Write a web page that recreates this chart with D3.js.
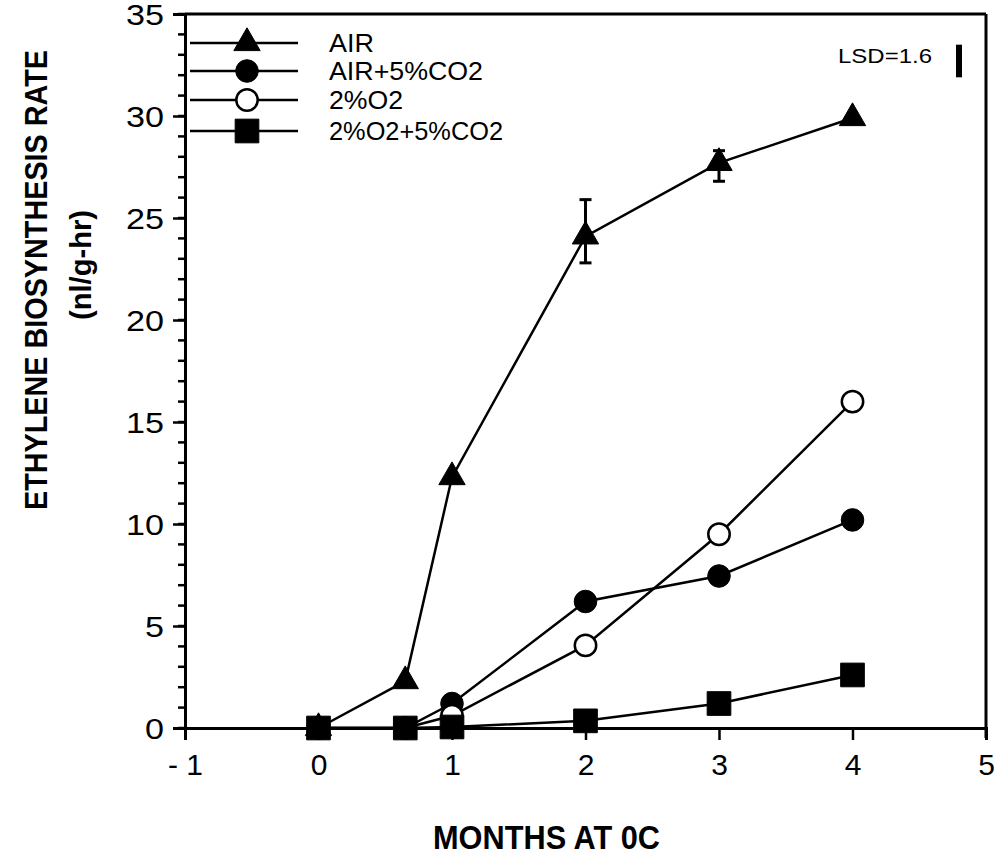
<!DOCTYPE html>
<html>
<head>
<meta charset="utf-8">
<script src="https://cdn.jsdelivr.net/npm/d3@7"></script>
<style>
  body { margin: 0; background: #fff; }
  svg { display: block; }
  text { font-family: "Liberation Sans", Arial, sans-serif; fill: #000; }
</style>
</head>
<body>
<svg id="chart" width="995" height="856"></svg>
<script>
// months of storage at 0C
const months = [0, 0.65, 1, 2, 3, 4];

// ethylene rate (nl/g-hr) for each atmosphere
const airVals = [0, 2.3, 12.3, 24.1, 27.7, 29.9];
const airCo2Vals = [0, 0, 1.2, 6.2, 7.45, 10.2];
const o2Vals = [0, 0, 0.6, 4.05, 9.5, 16.0];
const o2Co2Vals = [0, 0, 0.05, 0.35, 1.2, 2.6];

// error bars on the AIR series: [month, low, high]
const airErr = [[2, 22.8, 25.9], [3, 26.8, 28.3]];

const seriesNames = ["AIR", "AIR+5%CO2", "2%O2", "2%O2+5%CO2"];
const xTicks = [-1, 0, 1, 2, 3, 4, 5];
const yTicks = [0, 5, 10, 15, 20, 25, 30, 35];
const lsd = 1.6;

const series = [
    {name: seriesNames[0], vals: airVals, shape: d3.symbolTriangle, size: 300, fill: "#000"},
    {name: seriesNames[1], vals: airCo2Vals, shape: d3.symbolCircle, size: 400, fill: "#000"},
    {name: seriesNames[2], vals: o2Vals, shape: d3.symbolCircle, size: 360, fill: "#fff"},
    {name: seriesNames[3], vals: o2Co2Vals, shape: d3.symbolSquare, size: 560, fill: "#000"}
];

const svg = d3.select("#chart");

const x = d3.scaleLinear().domain([-1, 5]).range([185, 986]);
const y = d3.scaleLinear().domain([0, 35]).range([728, 14]);

// frame: top and right borders
svg.append("line")
    .attr("x1", x(-1)).attr("x2", x(5))
    .attr("y1", y(35)).attr("y2", y(35))
    .attr("stroke", "#000").attr("stroke-width", 3);
svg.append("line")
    .attr("x1", x(5)).attr("x2", x(5))
    .attr("y1", y(35)).attr("y2", y(0) + 10)
    .attr("stroke", "#000").attr("stroke-width", 3);

// minor y ticks every 1
svg.append("g")
    .selectAll("line")
    .data(d3.range(0, 36))
    .join("line")
    .attr("x1", x(-1) - 7).attr("x2", x(-1))
    .attr("y1", d => y(d)).attr("y2", d => y(d))
    .attr("stroke", "#000").attr("stroke-width", 2.5);

const yAxis = svg.append("g")
    .attr("transform", `translate(${x(-1)},0)`)
    .call(d3.axisLeft(y).tickValues(yTicks).tickSize(12).tickPadding(9));
yAxis.select(".domain").attr("stroke-width", 3);
yAxis.selectAll(".tick line").attr("stroke-width", 2.5);
yAxis.selectAll(".tick text")
    .style("font-size", "29px")
    .attr("dy", "0.36em")
    .attr("textLength", d => String(d).length * 19)
    .attr("lengthAdjust", "spacingAndGlyphs");

const xAxis = svg.append("g")
    .attr("transform", `translate(0,${y(0)})`)
    .call(d3.axisBottom(x).tickValues(xTicks).tickSize(12).tickPadding(14)
        .tickFormat(d => d < 0 ? "- " + Math.abs(d) : d));
xAxis.select(".domain").attr("stroke-width", 3);
xAxis.selectAll(".tick line").attr("stroke-width", 2.5);
xAxis.selectAll(".tick text")
    .style("font-size", "30px");

// error bars
const errG = svg.append("g");
airErr.forEach(e => {
    errG.append("line")
        .attr("x1", x(e[0])).attr("x2", x(e[0]))
        .attr("y1", y(e[1])).attr("y2", y(e[2]))
        .attr("stroke", "#000").attr("stroke-width", 3);
    [e[1], e[2]].forEach(v => {
        errG.append("line")
            .attr("x1", x(e[0]) - 6).attr("x2", x(e[0]) + 6)
            .attr("y1", y(v)).attr("y2", y(v))
            .attr("stroke", "#000").attr("stroke-width", 3);
    });
});

const line = d3.line().x(d => x(d[0])).y(d => y(d[1]));

series.forEach(s => {
    const pts = months.map((m, i) => [m, s.vals[i]]);
    svg.append("path")
        .datum(pts)
        .attr("d", line)
        .attr("fill", "none")
        .attr("stroke", "#000")
        .attr("stroke-width", 2.5);
});

series.forEach(s => {
    const pts = months.map((m, i) => [m, s.vals[i]]);
    svg.append("g")
        .selectAll("path")
        .data(pts)
        .join("path")
        .attr("transform", d => `translate(${x(d[0])},${y(d[1])})`)
        .attr("d", d3.symbol().type(s.shape).size(s.size))
        .attr("fill", s.fill)
        .attr("stroke", "#000")
        .attr("stroke-width", s.fill === "#fff" ? 2.5 : 1);
});

// legend
const legRows = [43, 71, 100, 131];
const legWidths = [45, 154, 74, 174];
const leg = svg.append("g");
series.forEach((s, i) => {
    const ly = legRows[i];
    leg.append("line")
        .attr("x1", 190).attr("x2", 298)
        .attr("y1", ly).attr("y2", ly)
        .attr("stroke", "#000").attr("stroke-width", 2.5);
    leg.append("path")
        .attr("transform", `translate(247,${ly})`)
        .attr("d", d3.symbol().type(s.shape).size(s.size))
        .attr("fill", s.fill)
        .attr("stroke", "#000")
        .attr("stroke-width", s.fill === "#fff" ? 2.5 : 1);
    leg.append("text")
        .attr("x", 329).attr("y", ly + 9)
        .style("font-size", "25px")
        .attr("textLength", legWidths[i])
        .attr("lengthAdjust", "spacingAndGlyphs")
        .text(s.name);
});

// LSD marker
svg.append("text")
    .attr("x", 838).attr("y", 63)
    .style("font-size", "21px")
    .attr("textLength", 94)
    .attr("lengthAdjust", "spacingAndGlyphs")
    .text("LSD=" + lsd);
svg.append("line")
    .attr("x1", 959).attr("x2", 959)
    .attr("y1", 61 - (y(0) - y(lsd)) / 2).attr("y2", 61 + (y(0) - y(lsd)) / 2)
    .attr("stroke", "#000").attr("stroke-width", 6);

// axis titles
svg.append("text")
    .attr("transform", "translate(47,280) rotate(-90)")
    .attr("text-anchor", "middle")
    .style("font-size", "31px").style("font-weight", "bold")
    .attr("textLength", 460)
    .attr("lengthAdjust", "spacingAndGlyphs")
    .text("ETHYLENE BIOSYNTHESIS RATE");
svg.append("text")
    .attr("transform", "translate(91,265) rotate(-90)")
    .attr("text-anchor", "middle")
    .style("font-size", "29px").style("font-weight", "bold")
    .attr("textLength", 110)
    .attr("lengthAdjust", "spacingAndGlyphs")
    .text("(nl/g-hr)");
svg.append("text")
    .attr("x", 433).attr("y", 849)
    .style("font-size", "33px").style("font-weight", "bold")
    .attr("textLength", 227)
    .attr("lengthAdjust", "spacingAndGlyphs")
    .text("MONTHS AT 0C");
</script>
</body>
</html>
